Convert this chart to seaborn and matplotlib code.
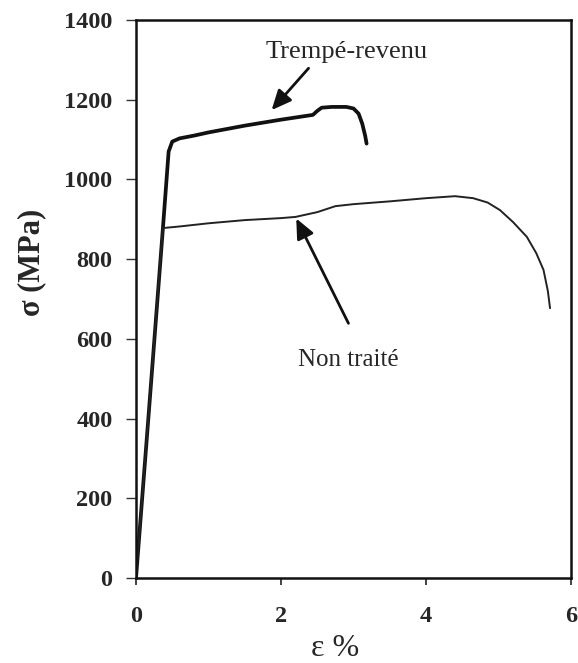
import matplotlib
matplotlib.use("Agg")
import matplotlib.pyplot as plt
import seaborn as sns
import pandas as pd

# Tensile curves: strain (%) vs stress (MPa)
eps_tr = [0, 0.17, 0.37, 0.45, 0.50, 0.60, 0.80, 1.0, 1.5, 2.0, 2.44, 2.50, 2.56,
          2.70, 2.90, 3.00, 3.07, 3.12, 3.16, 3.18]
sig_tr = [0, 400, 875, 1070, 1095, 1103, 1110, 1118, 1135, 1150, 1162, 1172, 1180,
          1182, 1182, 1178, 1165, 1140, 1110, 1090]

eps_nt = [0, 0.17, 0.37, 0.60, 1.0, 1.5, 2.0, 2.2, 2.5, 2.75, 3.0, 3.5, 4.0, 4.4,
          4.65, 4.85, 5.02, 5.2, 5.39, 5.52, 5.62, 5.68, 5.71]
sig_nt = [0, 400, 878, 882, 890, 898, 903, 906, 918, 933, 938, 945, 953, 958,
          953, 942, 923, 893, 856, 815, 773, 720, 677]

labels = ["Trempé-revenu", "Non traité"]
x_ticks = [0, 2, 4, 6]
y_ticks = [0, 200, 400, 600, 800, 1000, 1200, 1400]

df = pd.concat([
    pd.DataFrame({"eps": eps_tr, "sigma": sig_tr, "etat": labels[0]}),
    pd.DataFrame({"eps": eps_nt, "sigma": sig_nt, "etat": labels[1]}),
])

sns.set_theme(style="ticks")
plt.rcParams["font.family"] = ["Liberation Serif", "DejaVu Serif"]

fig = plt.figure(figsize=(5.78, 6.63), dpi=100)
ax = fig.add_axes([0.2353, 0.1282, 0.7527, 0.8416])

sns.lineplot(data=df, x="eps", y="sigma", hue="etat", size="etat",
             sizes={labels[0]: 2.7, labels[1]: 1.4},
             palette={labels[0]: "#111111", labels[1]: "#222222"},
             sort=False, estimator=None, legend=False, ax=ax)

ax.set_xlim(0, 6)
ax.set_ylim(0, 1400)
ax.set_xticks(x_ticks)
ax.set_yticks(y_ticks)
ax.tick_params(axis="x", direction="out", length=5, width=1.2, color="#222222",
               labelsize=17.5, pad=15)
ax.tick_params(axis="y", direction="out", length=7, width=1.0, color="#333333",
               labelsize=17.5, pad=10)
for lab in ax.get_xticklabels() + ax.get_yticklabels():
    lab.set_fontweight("bold")
for s in ax.spines.values():
    s.set_visible(True)
    s.set_linewidth(1.8)
    s.set_color("#111111")

ax.set_xlabel("ε %", fontsize=23, va="center")
ax.xaxis.set_label_coords((335 - 136) / 435, -0.127)
ax.set_ylabel("σ (MPa)", fontsize=22, fontweight="bold", va="center")
ax.yaxis.set_label_coords(-0.239, 0.565)

arrow = dict(arrowstyle="-|>,head_length=1.0,head_width=0.45", color="#111111",
             lw=2.0, shrinkA=0, shrinkB=0)
ax.annotate("", xy=(1.87, 1174), xytext=(2.38, 1279), arrowprops=arrow)
ax.text(2.91, 1320, labels[0], fontsize=19, ha="center", va="center")
ax.annotate("", xy=(2.21, 902), xytext=(2.93, 639), arrowprops=arrow)
ax.text(2.93, 547, labels[1], fontsize=18, ha="center", va="center")

fig.savefig("out.png", dpi=100)
